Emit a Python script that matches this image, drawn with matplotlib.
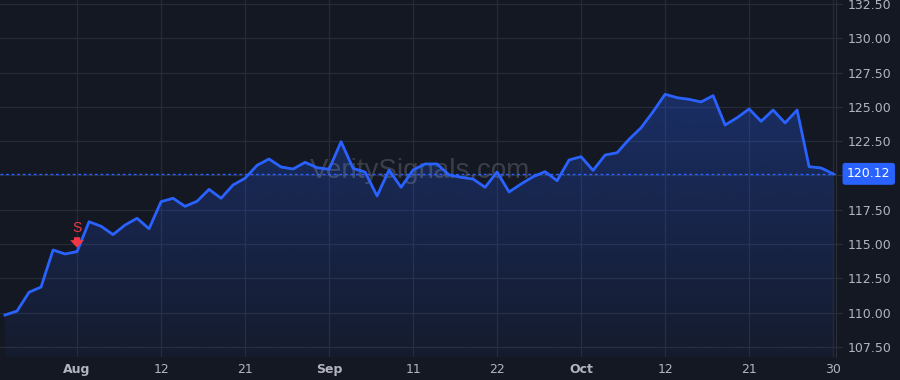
import numpy as np
import matplotlib.pyplot as plt
from matplotlib.patches import Polygon

# daily closes, one per trading bar (index based time scale)
prices = [
    109.83, 110.12, 111.49, 111.87, 114.57, 114.28, 114.45, 116.63, 116.30, 115.69,
    116.39, 116.88, 116.12, 118.09, 118.34, 117.75, 118.12, 118.99, 118.34, 119.31,
    119.80, 120.74, 121.20, 120.62, 120.47, 120.96, 120.57, 120.45, 122.46, 120.52,
    120.25, 118.51, 120.40, 119.14, 120.40, 120.84, 120.84, 120.04, 119.87, 119.74,
    119.14, 120.25, 118.80, 119.38, 119.91, 120.28, 119.62, 121.13, 121.37, 120.37,
    121.49, 121.66, 122.64, 123.48, 124.65, 125.92, 125.67, 125.55, 125.36, 125.82,
    123.68, 124.21, 124.85, 123.95, 124.77, 123.83, 124.77, 120.64, 120.55, 120.12,
]
tick_idx = [6, 13, 20, 27, 34, 41, 48, 55, 62, 69]
tick_labels = ["Aug", "12", "21", "Sep", "11", "22", "Oct", "12", "21", "30"]
month_labels = {"Aug", "Sep", "Oct"}
y_ticks = [107.5, 110, 112.5, 115, 117.5, 120, 122.5, 125, 127.5, 130, 132.5]
signal_idx = 6
signal_text = "S"
last_price = prices[-1]

BG = "#141823"
GRID = "#262b38"
LINE = "#2962ff"
TXT = "#b2b5be"
RED = "#f23645"

x = np.arange(len(prices))
y = np.array(prices)

fig = plt.figure(figsize=(9, 3.8), dpi=100, facecolor=BG)
ax = fig.add_axes([0.0, 0.0605, 0.929, 0.9395])
ax.set_facecolor(BG)

ymin, ymax = 106.77, 132.79
xmin, xmax = -0.42, 69.25
ax.set_xlim(xmin, xmax)
ax.set_ylim(ymin, ymax)

# grid
for t in y_ticks:
    ax.axhline(t, color=GRID, lw=0.9, zorder=0)
for i in tick_idx:
    ax.axvline(i, color=GRID, lw=0.9, zorder=0)

# gradient fill under the line
grad = np.linspace(0.05, 0.30, 256).reshape(-1, 1)
rgba = np.zeros((256, 1, 4))
rgba[..., 0] = 41 / 255
rgba[..., 1] = 98 / 255
rgba[..., 2] = 1.0
rgba[..., 3] = grad
im = ax.imshow(rgba, extent=[x[0], x[-1], ymin, y.max()], origin="lower",
               aspect="auto", zorder=1)
poly = Polygon(np.column_stack([np.r_[x[0], x, x[-1]], np.r_[ymin, y, ymin]]),
               closed=True, facecolor="none", edgecolor="none")
ax.add_patch(poly)
im.set_clip_path(poly)

# watermark, under the price line
ax.text(0.502, 0.52, "VeritySignals.com", transform=ax.transAxes, ha="center",
        va="center", fontsize=20, family="Liberation Sans", color="#ffffff",
        alpha=0.17, zorder=2)

ax.plot(x, y, color=LINE, lw=2, zorder=3, solid_joinstyle="round")

# last price line
ax.axhline(last_price, color=LINE, lw=1, ls=(0, (2, 2)), zorder=2.5)

# sell marker: small down arrow with the letter above
p = prices[signal_idx]
ax.annotate("", xy=(signal_idx, p + 0.28), xytext=(signal_idx, p + 1.05),
            arrowprops=dict(arrowstyle="simple,head_width=1.0,head_length=0.55,tail_width=0.45",
                            color=RED, lw=0, shrinkA=0, shrinkB=0),
            zorder=5)
ax.text(signal_idx, p + 1.72, signal_text, ha="center", va="center",
        color=RED, fontsize=10, family="Liberation Sans", zorder=5)

# axes styling
for s in ["top", "left", "bottom"]:
    ax.spines[s].set_visible(False)
ax.spines["right"].set_color("#2a2e39")
ax.yaxis.tick_right()
ax.set_yticks(y_ticks)
# the 120.00 label sits under the last price badge
ax.set_yticklabels(["" if t == 120 else f"{t:.2f}" for t in y_ticks])
ax.tick_params(axis="y", colors=TXT, labelsize=9, length=4, width=0.9,
               color="#2a2e39", pad=4)
ax.set_xticks(tick_idx)
ax.set_xticklabels(tick_labels)
ax.tick_params(axis="x", colors=TXT, labelsize=9, length=0, pad=4)
for lab in ax.get_xticklabels():
    if lab.get_text() in month_labels:
        lab.set_fontweight("bold")

# price label on the axis
ax.text(1.013, (last_price - ymin) / (ymax - ymin), f"{last_price:.2f}",
        transform=ax.transAxes, ha="left", va="center", fontsize=9, color="white",
        bbox=dict(boxstyle="round,pad=0.3,rounding_size=0.15", fc=LINE, ec=LINE),
        zorder=6, clip_on=False)

fig.savefig("out.png", dpi=100, facecolor=BG)
